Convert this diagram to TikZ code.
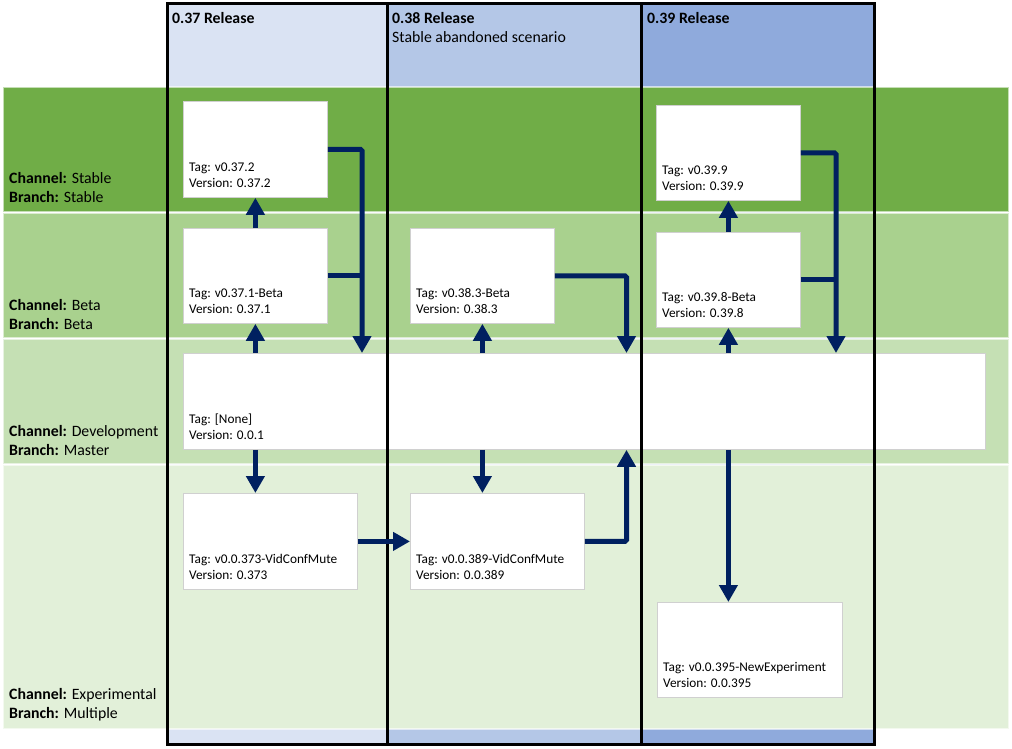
\documentclass[tikz,border=0pt]{standalone}
\usepackage{fontspec}
\setmainfont{Carlito}
\usetikzlibrary{arrows.meta}
\definecolor{navy}{HTML}{002060}
\definecolor{colA}{HTML}{DAE3F3}
\definecolor{colB}{HTML}{B4C7E7}
\definecolor{colC}{HTML}{8FAADC}
\definecolor{bandS}{HTML}{70AD47}
\definecolor{bandB}{HTML}{A9D18E}
\definecolor{bandD}{HTML}{C5E0B4}
\definecolor{bandE}{HTML}{E2F0D9}
\definecolor{boxline}{HTML}{D0D0D0}
\begin{document}
\begin{tikzpicture}[x=1pt,y=-1pt,
  band/.style={draw=white, draw opacity=0.6, line width=2pt},
  colframe/.style={draw=black, line width=3pt},
  relbox/.style={draw=boxline, fill=white, line width=0.8pt, inner sep=0pt, anchor=north west},
  conn/.style={draw=navy, line width=5pt, rounded corners=1.5pt},
  arr/.style={conn, -{Triangle[width=18pt,length=17pt]}},
  tagtext/.style={font=\fontsize{13.3}{16}\selectfont, align=left, anchor=south west, inner sep=0pt},
  lbl/.style={font=\fontsize{15.8}{19}\selectfont, anchor=base west, inner sep=0pt},
  hdr/.style={lbl, font=\fontsize{15.8}{19}\selectfont\bfseries}
]
\useasboundingbox (0,0) rectangle (1012,748);
\fill[white] (0,0) rectangle (1012,748);
% column fills
\fill[colA] (167,3) rectangle (387,744);
\fill[colB] (387,3) rectangle (641,744);
\fill[colC] (641,3) rectangle (874,744);
% bands
\filldraw[band, fill=bandS] (3,87) rectangle (1009,212);
\filldraw[band, fill=bandB] (3,213) rectangle (1009,338);
\filldraw[band, fill=bandD] (3,339) rectangle (1009,464);
\filldraw[band, fill=bandE] (3,465) rectangle (1009,729);
% headers
\node[hdr] (h37) at (172,23) {0.37 Release};
\node[hdr] (h38) at (392,23) {0.38 Release};
\node[lbl] (h38s) at (392,42) {Stable abandoned scenario};
\node[hdr] (h39) at (647,23) {0.39 Release};
% channel labels
\node[lbl] (chS) at (9,183) {\textbf{Channel:} Stable};
\node[lbl] (brS) at (9,202) {\textbf{Branch:} Stable};
\node[lbl] (chB) at (9,310) {\textbf{Channel:} Beta};
\node[lbl] (brB) at (9,329) {\textbf{Branch:} Beta};
\node[lbl] (chD) at (9,436) {\textbf{Channel:} Development};
\node[lbl] (brD) at (9,455) {\textbf{Branch:} Master};
\node[lbl] (chE) at (9,699) {\textbf{Channel:} Experimental};
\node[lbl] (brE) at (9,718) {\textbf{Branch:} Multiple};
% boxes
\node[relbox, minimum width=144pt, minimum height=96pt] (s37) at (183,101) {};
\node[relbox, minimum width=144pt, minimum height=95pt] (b37) at (183,228) {};
\node[relbox, minimum width=802pt, minimum height=96pt] (dev) at (183,353) {};
\node[relbox, minimum width=174pt, minimum height=96pt] (e37) at (183,493) {};
\node[relbox, minimum width=144pt, minimum height=95pt] (b38) at (410,228) {};
\node[relbox, minimum width=174pt, minimum height=96pt] (e38) at (410,493) {};
\node[relbox, minimum width=144pt, minimum height=95pt] (s39) at (656,105) {};
\node[relbox, minimum width=144pt, minimum height=95pt] (b39) at (656,232) {};
\node[relbox, minimum width=185pt, minimum height=95pt] (e39) at (657,602) {};
% box texts
\node[tagtext] (ts37) at ([shift={(6,-10)}]s37.south west) {Tag: v0.37.2\\Version: 0.37.2};
\node[tagtext] (tb37) at ([shift={(6,-10)}]b37.south west) {Tag: v0.37.1-Beta\\Version: 0.37.1};
\node[tagtext] (tdev) at ([shift={(6,-10)}]dev.south west) {Tag: [None]\\Version: 0.0.1};
\node[tagtext] (te37) at ([shift={(6,-10)}]e37.south west) {Tag: v0.0.373-VidConfMute\\Version: 0.373};
\node[tagtext] (tb38) at ([shift={(6,-10)}]b38.south west) {Tag: v0.38.3-Beta\\Version: 0.38.3};
\node[tagtext] (te38) at ([shift={(6,-10)}]e38.south west) {Tag: v0.0.389-VidConfMute\\Version: 0.0.389};
\node[tagtext] (ts39) at ([shift={(6,-10)}]s39.south west) {Tag: v0.39.9\\Version: 0.39.9};
\node[tagtext] (tb39) at ([shift={(6,-10)}]b39.south west) {Tag: v0.39.8-Beta\\Version: 0.39.8};
\node[tagtext] (te39) at ([shift={(6,-10)}]e39.south west) {Tag: v0.0.395-NewExperiment\\Version: 0.0.395};
% column frames
\draw[colframe] (167,3) rectangle (387,744);
\draw[colframe] (387,3) rectangle (641,744);
\draw[colframe] (641,3) rectangle (874,744);
% junction coordinates
\coordinate (j37) at (362,0);
\coordinate (j38) at (626.5,0);
\coordinate (j39) at (836,0);
% connectors 0.37
\draw[arr] (b37.north) -- (s37.south);
\draw[arr] (dev.north -| b37.south) -- (b37.south);
\draw[arr] (s37.east) -| (dev.north -| j37);
\draw[conn] (b37.east) -- (b37.east -| j37);
\draw[arr] (dev.south -| s37.south) -- (e37.north -| s37.south);
\draw[arr] (e37.east) -- (e38.west |- e37.east);
% connectors 0.38
\draw[arr] (b38.east) -| (dev.north -| j38);
\draw[arr] (dev.north -| b38.south) -- (b38.south);
\draw[arr] (dev.south -| b38.south) -- (e38.north -| b38.south);
\draw[arr] (e38.east) -| (dev.south -| j38);
% connectors 0.39
\draw[arr] (b39.north) -- (s39.south);
\draw[arr] (dev.north -| b39.south) -- (b39.south);
\draw[arr] (s39.east) -| (dev.north -| j39);
\draw[conn] (b39.east) -- (b39.east -| j39);
\draw[arr] (dev.south -| b39.south) -- (e39.north -| b39.south);
\end{tikzpicture}
\end{document}
